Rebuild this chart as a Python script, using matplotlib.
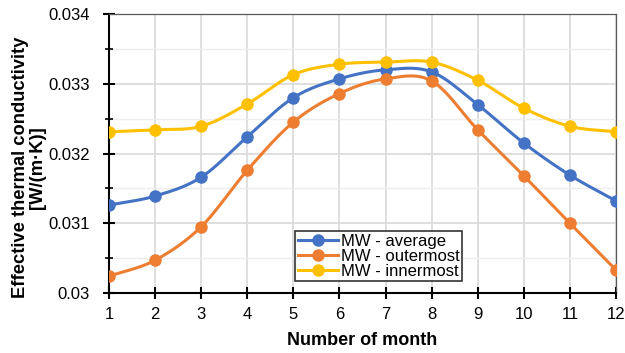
import numpy as np
import matplotlib
matplotlib.use("Agg")
import matplotlib.pyplot as plt
from matplotlib.ticker import MultipleLocator, FuncFormatter

plt.rcParams['font.family'] = ['Liberation Sans', 'DejaVu Sans']

months = [1, 2, 3, 4, 5, 6, 7, 8, 9, 10, 11, 12]
mw_average = [0.03126, 0.03139, 0.03166, 0.03224, 0.03280, 0.03307, 0.03320, 0.03317, 0.03270, 0.03215, 0.03169, 0.03132]
mw_outermost = [0.03024, 0.03047, 0.03095, 0.03176, 0.03245, 0.03286, 0.03307, 0.03304, 0.03234, 0.03168, 0.03100, 0.03033]
mw_innermost = [0.03231, 0.03234, 0.03239, 0.03271, 0.03313, 0.03328, 0.03331, 0.03331, 0.03305, 0.03265, 0.03239, 0.03231]

series = [("MW - average", mw_average, "#4472C4"),
          ("MW - outermost", mw_outermost, "#ED7D31"),
          ("MW - innermost", mw_innermost, "#FFC000")]

def smooth(x, y, n=20):
    x = np.asarray(x, float); y = np.asarray(y, float)
    px = np.concatenate([[2*x[0]-x[1]], x, [2*x[-1]-x[-2]]])
    py = np.concatenate([[2*y[0]-y[1]], y, [2*y[-1]-y[-2]]])
    xs, ys = [], []
    for i in range(1, len(px)-2):
        t = np.linspace(0, 1, n, endpoint=False)
        for arr, out in ((px, xs), (py, ys)):
            p0, p1, p2, p3 = arr[i-1], arr[i], arr[i+1], arr[i+2]
            out.extend(0.5*((2*p1) + (-p0+p2)*t + (2*p0-5*p1+4*p2-p3)*t**2 + (-p0+3*p1-3*p2+p3)*t**3))
    xs.append(x[-1]); ys.append(y[-1])
    return np.array(xs), np.array(ys)

fig = plt.figure(figsize=(6.25, 3.53), dpi=100)
ax = fig.add_axes([109/625, 60/353, 507/625, 279/353])

for label, vals, color in series:
    sx, sy = smooth(months, vals)
    ax.plot(sx, sy, color=color, lw=2.2, zorder=3)
    ax.plot(months, vals, 'o', color=color, ms=8, zorder=4)
    ax.plot([], [], '-o', color=color, lw=2.2, ms=8, label=label)

ax.set_xlim(1, 12)
ax.set_ylim(0.030, 0.034)
ax.xaxis.set_major_locator(MultipleLocator(1))
ax.yaxis.set_major_locator(MultipleLocator(0.001))
ax.yaxis.set_minor_locator(MultipleLocator(0.0005))
ax.yaxis.set_major_formatter(FuncFormatter(lambda v, p: ('%g' % round(v, 4))))

ax.grid(True, which='major', color='#D9D9D9', lw=1.2, zorder=0)
ax.grid(True, which='minor', axis='y', color='#EDEDED', lw=1.0, zorder=0)
ax.set_axisbelow(True)

for s in ('top', 'right'):
    ax.spines[s].set_color('#595959')
    ax.spines[s].set_linewidth(0.9)
for s in ('left', 'bottom'):
    ax.spines[s].set_color('black')
    ax.spines[s].set_linewidth(1.5)

ax.tick_params(axis='both', which='major', direction='inout', length=8, width=1.5, labelsize=12, colors='black')
ax.tick_params(axis='y', which='minor', direction='inout', length=6, width=1.2)
ax.tick_params(axis='x', pad=6)
ax.tick_params(axis='y', which='major', pad=10)

ax.set_xlabel("Number of month", fontsize=13, fontweight='bold', labelpad=7)
ax.set_ylabel("Effective thermal conductivity\n[W/(m·K)]", fontsize=13.2, fontweight='bold', linespacing=1.0)
ax.yaxis.set_label_coords(-0.125, 0.45)

leg = ax.legend(loc='lower left', bbox_to_anchor=(0.367, 0.043, 0.375, 0.19), fontsize=12,
                frameon=True, fancybox=False, edgecolor='black', borderpad=0.15,
                handlelength=2.4, handletextpad=0.2, labelspacing=0.0, borderaxespad=0)
leg.get_frame().set_linewidth(1.2)

fig.savefig("out.png", dpi=100)
